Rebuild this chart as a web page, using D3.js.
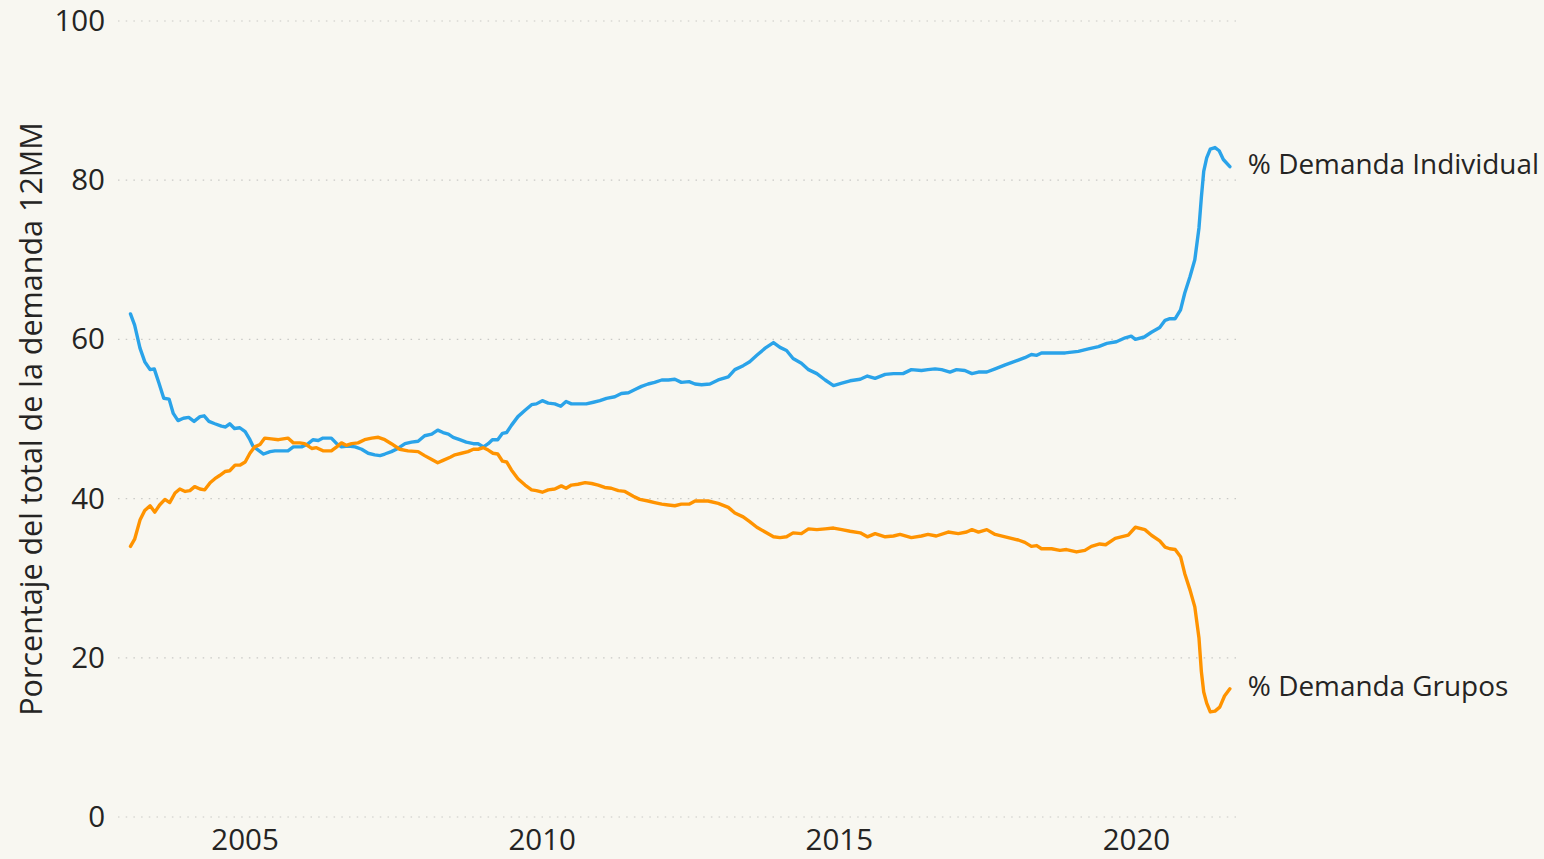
<!DOCTYPE html>
<html>
<head>
<meta charset="utf-8">
<script src="https://cdn.jsdelivr.net/npm/d3@7"></script>
<style>
  html, body { margin: 0; padding: 0; background: #f8f7f1; }
  svg { display: block; }
  text { font-family: "Open Sans", "Noto Sans", sans-serif; fill: #252423; }
</style>
</head>
<body>
<svg id="chart" width="1544" height="859"></svg>
<script>
// ---- Data (decimal year, % of total 12-month demand) ----
const individualYears = [2003.08,2003.15,2003.24,2003.32,2003.41,2003.48,2003.56,2003.64,2003.73,2003.80,2003.88,2003.97,2004.06,2004.15,2004.25,2004.32,2004.40,2004.50,2004.61,2004.68,2004.75,2004.83,2004.92,2005.01,2005.09,2005.14,2005.23,2005.32,2005.43,2005.51,2005.62,2005.73,2005.82,2005.96,2006.07,2006.15,2006.24,2006.32,2006.46,2006.55,2006.63,2006.74,2006.86,2006.97,2007.08,2007.19,2007.28,2007.36,2007.47,2007.58,2007.70,2007.81,2007.92,2008.03,2008.15,2008.25,2008.34,2008.43,2008.51,2008.62,2008.73,2008.85,2008.93,2009.02,2009.10,2009.17,2009.26,2009.34,2009.41,2009.49,2009.60,2009.72,2009.83,2009.91,2010.01,2010.11,2010.22,2010.32,2010.41,2010.50,2010.61,2010.75,2010.87,2010.98,2011.09,2011.23,2011.34,2011.46,2011.57,2011.68,2011.79,2011.90,2012.02,2012.13,2012.24,2012.35,2012.48,2012.58,2012.69,2012.83,2012.97,2013.14,2013.25,2013.39,2013.50,2013.62,2013.76,2013.90,2014.01,2014.12,2014.23,2014.37,2014.49,2014.63,2014.77,2014.91,2015.05,2015.19,2015.36,2015.48,2015.61,2015.78,2015.92,2016.08,2016.22,2016.39,2016.50,2016.62,2016.73,2016.87,2016.98,2017.12,2017.24,2017.35,2017.49,2017.63,2017.80,2018.02,2018.13,2018.24,2018.33,2018.41,2018.58,2018.81,2019.03,2019.20,2019.37,2019.51,2019.67,2019.82,2019.92,2019.99,2020.14,2020.26,2020.40,2020.49,2020.57,2020.66,2020.75,2020.82,2020.91,2020.99,2021.06,2021.10,2021.14,2021.19,2021.25,2021.33,2021.40,2021.47,2021.58];
const individualValues = [63.2,61.8,58.9,57.2,56.2,56.3,54.5,52.6,52.5,50.7,49.8,50.1,50.2,49.7,50.3,50.4,49.7,49.4,49.1,49.0,49.4,48.8,48.9,48.4,47.4,46.6,46.1,45.6,45.9,46.0,46.0,46.0,46.5,46.5,46.9,47.4,47.3,47.6,47.6,46.9,46.5,46.6,46.5,46.2,45.7,45.5,45.4,45.6,45.9,46.3,46.9,47.1,47.2,47.9,48.1,48.6,48.3,48.1,47.7,47.4,47.1,46.9,46.9,46.5,46.9,47.4,47.4,48.2,48.3,49.2,50.3,51.1,51.8,51.9,52.3,52.0,51.9,51.6,52.2,51.9,51.9,51.9,52.1,52.3,52.6,52.8,53.2,53.3,53.7,54.1,54.4,54.6,54.9,54.9,55.0,54.6,54.7,54.4,54.3,54.4,54.9,55.3,56.2,56.7,57.2,58.0,58.9,59.6,59.0,58.6,57.6,57.0,56.2,55.7,54.9,54.2,54.5,54.8,55.0,55.4,55.1,55.6,55.7,55.7,56.2,56.1,56.2,56.3,56.2,55.9,56.2,56.1,55.7,55.9,55.9,56.3,56.8,57.4,57.7,58.1,58.0,58.3,58.3,58.3,58.5,58.8,59.1,59.5,59.7,60.2,60.4,60.0,60.3,60.9,61.5,62.4,62.6,62.6,63.7,65.8,67.9,70.0,74.0,77.8,81.1,82.8,83.9,84.1,83.7,82.6,81.7];

const groupYears = [2003.08,2003.15,2003.24,2003.32,2003.41,2003.49,2003.57,2003.66,2003.74,2003.83,2003.91,2004.00,2004.08,2004.16,2004.25,2004.33,2004.42,2004.50,2004.58,2004.67,2004.75,2004.84,2004.92,2005.01,2005.09,2005.17,2005.26,2005.34,2005.45,2005.57,2005.65,2005.73,2005.82,2005.93,2006.01,2006.13,2006.21,2006.32,2006.46,2006.55,2006.63,2006.71,2006.80,2006.91,2007.02,2007.14,2007.25,2007.36,2007.47,2007.61,2007.75,2007.92,2008.03,2008.15,2008.25,2008.34,2008.46,2008.54,2008.65,2008.76,2008.85,2008.93,2009.02,2009.10,2009.18,2009.26,2009.34,2009.41,2009.49,2009.60,2009.72,2009.83,2009.91,2010.01,2010.11,2010.22,2010.33,2010.41,2010.50,2010.61,2010.73,2010.84,2010.95,2011.06,2011.17,2011.29,2011.40,2011.54,2011.65,2011.79,2011.90,2012.02,2012.13,2012.24,2012.35,2012.48,2012.58,2012.69,2012.80,2012.97,2013.14,2013.25,2013.39,2013.50,2013.62,2013.76,2013.90,2014.01,2014.12,2014.23,2014.37,2014.49,2014.63,2014.77,2014.91,2015.05,2015.19,2015.36,2015.48,2015.61,2015.78,2015.92,2016.03,2016.22,2016.39,2016.50,2016.64,2016.84,2017.01,2017.15,2017.24,2017.35,2017.49,2017.63,2017.80,2018.02,2018.13,2018.24,2018.33,2018.41,2018.58,2018.72,2018.83,2019.00,2019.14,2019.25,2019.39,2019.49,2019.65,2019.87,2019.99,2020.15,2020.26,2020.40,2020.49,2020.57,2020.66,2020.75,2020.82,2020.91,2020.99,2021.06,2021.10,2021.14,2021.19,2021.25,2021.33,2021.41,2021.49,2021.58];
const groupValues = [34.0,34.9,37.3,38.5,39.1,38.3,39.2,39.9,39.5,40.7,41.2,40.9,41.0,41.5,41.2,41.1,42.0,42.5,42.9,43.4,43.5,44.2,44.2,44.6,45.7,46.5,46.8,47.6,47.5,47.4,47.5,47.6,47.0,47.0,46.9,46.3,46.4,46.0,46.0,46.5,47.0,46.7,46.9,47.0,47.4,47.6,47.7,47.4,46.9,46.2,46.0,45.9,45.4,44.9,44.5,44.8,45.2,45.5,45.7,45.9,46.2,46.2,46.4,46.1,45.7,45.6,44.7,44.6,43.6,42.5,41.7,41.1,41.0,40.8,41.1,41.2,41.6,41.3,41.7,41.8,42.0,41.9,41.7,41.4,41.3,41.0,40.9,40.3,39.9,39.7,39.5,39.3,39.2,39.1,39.3,39.3,39.7,39.7,39.7,39.4,38.9,38.2,37.7,37.1,36.4,35.8,35.2,35.1,35.2,35.7,35.6,36.2,36.1,36.2,36.3,36.1,35.9,35.7,35.2,35.6,35.2,35.3,35.5,35.1,35.3,35.5,35.3,35.8,35.6,35.8,36.1,35.8,36.1,35.5,35.2,34.8,34.5,34.0,34.1,33.7,33.7,33.5,33.6,33.3,33.5,34.0,34.3,34.2,35.0,35.4,36.4,36.1,35.4,34.7,33.9,33.7,33.6,32.7,30.6,28.5,26.4,22.5,18.3,15.7,14.3,13.2,13.3,13.8,15.2,16.1];

const seriesNames = ["% Demanda Individual", "% Demanda Grupos"];
const seriesColors = ["#2aa3e9", "#ff9300"];
const xTicks = [2005, 2010, 2015, 2020];
const yTicks = [0, 20, 40, 60, 80, 100];
const xDomain = [2002.87, 2021.70];
const yDomain = [0, 100];
const yAxisTitle = "Porcentaje del total de la demanda 12MM";

// ---- Layout ----
const svg = d3.select("#chart");
const plot = { left: 118, right: 1237, top: 21, bottom: 817 };

const x = d3.scaleLinear().domain(xDomain).range([plot.left, plot.right]);
const y = d3.scaleLinear().domain(yDomain).range([plot.bottom, plot.top]);

// gridlines
svg.append("g").selectAll("line").data(yTicks).join("line")
  .attr("x1", plot.left).attr("x2", plot.right)
  .attr("y1", d => y(d)).attr("y2", d => y(d))
  .attr("stroke", "#c9c9c6").attr("stroke-width", 1.2)
  .attr("stroke-dasharray", "1.5,6.2");

// y axis
const yAxis = d3.axisLeft(y).tickValues(yTicks).tickSize(0).tickPadding(13);
const gy = svg.append("g").attr("transform", `translate(${plot.left},0)`).call(yAxis);
gy.select(".domain").remove();
gy.selectAll("text").attr("font-size", 29.5).attr("font-family", '"Open Sans", sans-serif').attr("fill", "#252423");

// x axis
const xAxis = d3.axisBottom(x).tickValues(xTicks).tickFormat(d3.format("d")).tickSize(0).tickPadding(12);
const gx = svg.append("g").attr("transform", `translate(0,${plot.bottom})`).call(xAxis);
gx.select(".domain").remove();
gx.selectAll("text").attr("font-size", 29.5).attr("font-family", '"Open Sans", sans-serif').attr("fill", "#252423");

// y axis title
svg.append("text")
  .attr("transform", `translate(42,${(plot.top + plot.bottom) / 2}) rotate(-90)`)
  .attr("text-anchor", "middle")
  .attr("font-size", 30.5)
  .text(yAxisTitle);

// lines
const series = [
  { name: seriesNames[0], color: seriesColors[0], pts: individualYears.map((t, i) => [t, individualValues[i]]) },
  { name: seriesNames[1], color: seriesColors[1], pts: groupYears.map((t, i) => [t, groupValues[i]]) }
];
const line = d3.line().x(d => x(d[0])).y(d => y(d[1]));

svg.append("g").selectAll("path").data(series).join("path")
  .attr("d", d => line(d.pts))
  .attr("fill", "none")
  .attr("stroke", d => d.color)
  .attr("stroke-width", 3.4)
  .attr("stroke-linejoin", "round")
  .attr("stroke-linecap", "round");

// end labels
svg.append("g").selectAll("text").data(series).join("text")
  .attr("x", d => x(d.pts[d.pts.length - 1][0]) + 18)
  .attr("y", d => y(d.pts[d.pts.length - 1][1]))
  .attr("dy", "0.25em")
  .attr("font-size", 27.9)
  .text(d => d.name);
</script>
</body>
</html>
